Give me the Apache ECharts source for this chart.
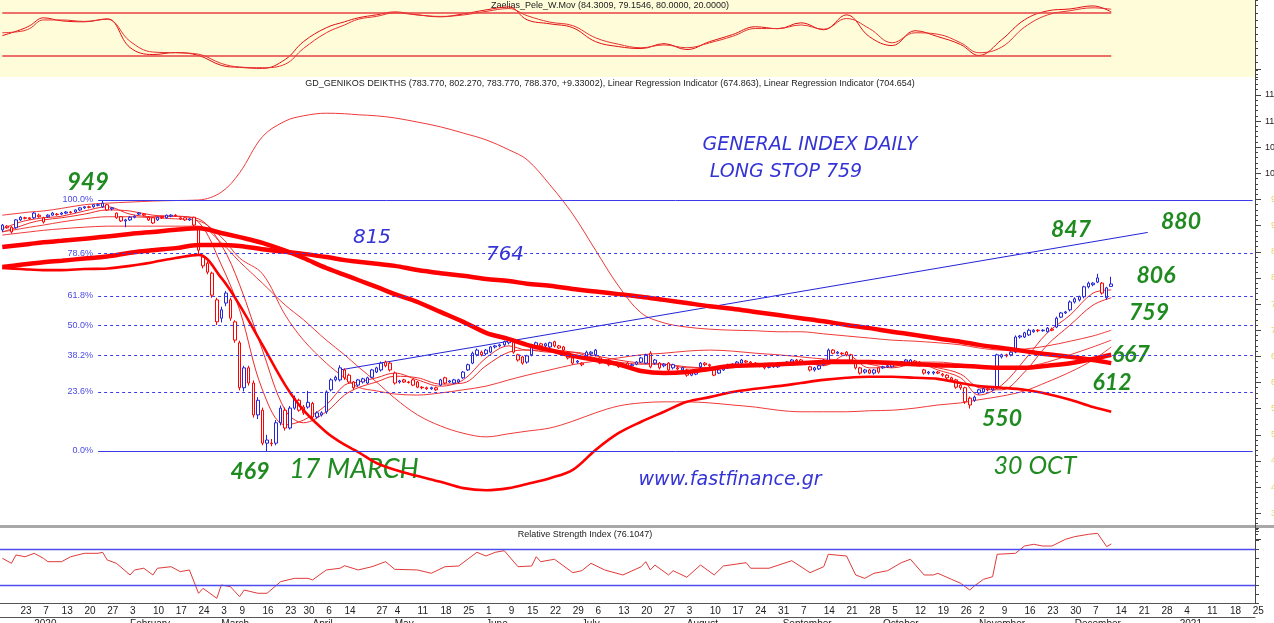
<!DOCTYPE html>
<html>
<head>
<meta charset="utf-8">
<title>GD General Index daily</title>
<script src="https://cdn.jsdelivr.net/npm/echarts@6/dist/echarts.min.js"></script>
<style>
  html, body { margin: 0; padding: 0; background: #fff; }
  #chart { width: 1274px; height: 623px; }
</style>
</head>
<body>
<div id="chart"></div>
<script>
// ---- trading calendar ----
const firstDay = '2019-12-17';
const lastDataDay = '2020-12-11';
const lastDay = '2021-01-25';
const holidays = ['2019-12-24', '2019-12-25', '2019-12-26', '2019-12-31', '2020-01-01', '2020-01-06',
  '2020-03-02', '2020-03-25', '2020-04-10', '2020-04-13', '2020-04-17', '2020-04-20', '2020-05-01',
  '2020-06-08', '2020-10-28'];
const weekTicks = ['2019-12-17', '2019-12-23', '2019-12-30', '2020-01-07', '2020-01-13', '2020-01-20', '2020-01-27',
  '2020-02-03', '2020-02-10', '2020-02-17', '2020-02-24', '2020-03-03', '2020-03-09', '2020-03-16', '2020-03-23',
  '2020-03-30', '2020-04-06', '2020-04-14', '2020-04-21', '2020-04-27', '2020-05-04', '2020-05-11', '2020-05-18',
  '2020-05-25', '2020-06-01', '2020-06-09', '2020-06-15', '2020-06-22', '2020-06-29', '2020-07-06', '2020-07-13',
  '2020-07-20', '2020-07-27', '2020-08-03', '2020-08-10', '2020-08-17', '2020-08-24', '2020-08-31', '2020-09-07',
  '2020-09-14', '2020-09-21', '2020-09-28', '2020-10-05', '2020-10-12', '2020-10-19', '2020-10-26', '2020-11-02',
  '2020-11-09', '2020-11-16', '2020-11-23', '2020-11-30', '2020-12-07', '2020-12-14', '2020-12-21', '2020-12-28',
  '2021-01-04', '2021-01-11', '2021-01-18', '2021-01-25'];
const unlabeledTicks = ['2019-12-17', '2019-12-30', '2020-04-21'];
const monthNames = ['January', 'February', 'March', 'April', 'May', 'June', 'July', 'August',
  'September', 'October', 'November', 'December'];

// ---- daily candles [open, close, low, high] ----
const dec2019 = [[892, 901, 888, 903], [899, 896, 894, 901], [897, 888, 885, 899], [896, 911, 894, 912],
  [911, 916, 909, 918], [915, 914, 912, 917], [915, 913, 911, 916]];
const jan2020 = [[915, 924, 913, 926], [920, 917, 915, 923], [915, 907, 904, 917], [917, 920, 915, 922],
  [920, 924, 919, 926], [922, 921, 919, 924], [922, 924, 920, 926], [924, 926, 922, 928], [926, 925, 923, 928],
  [926, 930, 924, 931], [930, 934, 928, 935], [934, 936, 932, 937], [936, 935, 933, 938], [936, 940, 934, 941],
  [939, 940, 937, 942], [936, 943, 934, 949], [940, 930, 928, 941], [934, 932, 929, 935], [924, 915, 913, 925],
  [917, 909, 907, 918], [909, 911, 897, 913]];
const feb2020 = [[911, 916, 909, 918], [916, 918, 914, 920], [922, 924, 920, 926], [922, 920, 918, 924],
  [916, 911, 909, 918], [915, 905, 903, 916], [911, 916, 909, 917], [916, 915, 913, 918], [915, 920, 913, 921],
  [918, 920, 916, 922], [920, 919, 917, 922], [915, 913, 911, 916], [915, 911, 909, 916], [913, 911, 909, 914],
  [916, 901, 899, 917], [895, 853, 842, 899], [840, 823, 818, 843], [828, 811, 807, 832], [809, 767, 762, 812],
  [758, 716, 710, 762]];
const mar2020 = [[723, 739, 715, 745], [752, 771, 746, 775], [758, 723, 718, 762], [716, 681, 676, 719],
  [676, 590, 585, 680], [590, 628, 583, 632], [628, 599, 594, 632], [599, 538, 533, 604], [538, 566, 530, 572],
  [547, 484, 480, 552], [490, 484, 469, 500], [484, 483, 478, 492], [484, 523, 480, 528], [523, 551, 518, 556],
  [547, 513, 508, 552], [513, 551, 510, 555], [551, 570, 548, 575], [566, 547, 544, 569], [553, 542, 538, 557],
  [553, 562, 550, 584]];
const apr2020 = [[560, 534, 530, 563], [542, 534, 531, 545], [542, 538, 535, 545], [544, 582, 540, 585],
  [586, 605, 583, 608], [605, 610, 602, 613], [605, 628, 602, 633], [624, 609, 605, 627], [614, 601, 598, 617],
  [601, 590, 586, 603], [595, 605, 592, 607], [601, 607, 598, 609], [599, 609, 597, 611], [610, 624, 608, 626],
  [620, 628, 618, 630], [624, 637, 621, 640], [639, 632, 629, 642], [637, 624, 621, 640]];
const may2020 = [[618, 599, 596, 621], [601, 603, 598, 605], [605, 601, 599, 607], [601, 600, 598, 603],
  [605, 595, 593, 607], [601, 591, 589, 603], [591, 590, 587, 593], [590, 588, 586, 592], [588, 590, 586, 592],
  [590, 586, 584, 592], [595, 605, 593, 607], [609, 599, 597, 611], [603, 601, 599, 605], [599, 605, 597, 607],
  [601, 605, 599, 607], [609, 620, 607, 622], [624, 634, 622, 636], [637, 656, 635, 659], [653, 662, 650, 665],
  [658, 653, 650, 661]];
const jun2020 = [[655, 662, 652, 664], [658, 668, 656, 670], [668, 670, 665, 672], [670, 672, 667, 674],
  [672, 678, 669, 680], [676, 681, 673, 684], [678, 658, 655, 680], [653, 643, 640, 655], [649, 637, 634, 651],
  [639, 651, 636, 653], [653, 672, 650, 674], [668, 676, 665, 678], [674, 670, 667, 676], [670, 674, 668, 676],
  [668, 676, 666, 678], [678, 670, 667, 680], [670, 666, 664, 672], [668, 662, 660, 670], [658, 647, 644, 660],
  [647, 637, 634, 649], [639, 641, 636, 643]];
const jul2020 = [[637, 634, 631, 639], [649, 658, 646, 661], [655, 658, 652, 660], [653, 662, 650, 664],
  [647, 637, 635, 649], [641, 639, 637, 643], [643, 634, 631, 645], [635, 637, 633, 639], [637, 630, 628, 639],
  [632, 635, 629, 637], [637, 630, 627, 639], [632, 634, 630, 636], [635, 639, 633, 641], [639, 647, 637, 649],
  [637, 653, 635, 655], [656, 630, 627, 660], [643, 637, 634, 645], [637, 628, 625, 639], [632, 635, 629, 637],
  [637, 624, 621, 639], [634, 628, 625, 636], [628, 626, 623, 630], [624, 628, 622, 630]];
const aug2020 = [[624, 614, 611, 626], [620, 614, 612, 622], [616, 620, 614, 622], [630, 637, 627, 639],
  [637, 634, 631, 639], [634, 632, 629, 636], [624, 614, 612, 626], [618, 624, 616, 626], [624, 628, 622, 630],
  [628, 634, 626, 636], [632, 635, 630, 637], [635, 639, 633, 641], [637, 643, 635, 645], [641, 639, 637, 643],
  [639, 637, 635, 641], [637, 634, 631, 639], [634, 632, 629, 636], [630, 628, 625, 632], [630, 629, 627, 632],
  [630, 632, 628, 634], [630, 632, 628, 634]];
const sep2020 = [[634, 635, 632, 637], [637, 639, 635, 641], [639, 643, 637, 645], [643, 641, 639, 645],
  [643, 639, 637, 645], [639, 635, 633, 641], [630, 624, 621, 632], [628, 624, 621, 630], [626, 632, 624, 634],
  [634, 643, 632, 645], [639, 662, 637, 665], [662, 656, 654, 664], [658, 656, 654, 660], [656, 655, 652, 658],
  [658, 653, 650, 660], [653, 643, 640, 655], [637, 628, 625, 639], [628, 618, 615, 630], [624, 620, 617, 626],
  [624, 618, 616, 626], [618, 624, 615, 626], [628, 620, 617, 630]];
const oct2020 = [[628, 630, 626, 632], [630, 632, 628, 634], [630, 637, 628, 639], [635, 637, 633, 639],
  [639, 637, 635, 641], [643, 639, 637, 645], [637, 643, 635, 645], [639, 641, 637, 643], [639, 634, 631, 641],
  [624, 618, 615, 626], [620, 618, 615, 622], [618, 620, 615, 622], [620, 618, 616, 622], [616, 614, 611, 618],
  [614, 609, 606, 616], [609, 605, 602, 611], [605, 591, 588, 607], [595, 590, 586, 597], [590, 563, 559, 592],
  [570, 557, 550, 573], [566, 572, 563, 575]];
const nov2020 = [[580, 586, 577, 588], [582, 588, 580, 590], [588, 586, 583, 590], [586, 590, 584, 592],
  [590, 653, 588, 655], [649, 653, 646, 655], [653, 651, 648, 655], [653, 658, 650, 660], [658, 687, 656, 690],
  [687, 689, 684, 691], [687, 695, 685, 697], [691, 700, 689, 703], [697, 700, 695, 702], [700, 699, 696, 702],
  [699, 700, 697, 702], [697, 704, 695, 706], [702, 700, 698, 705], [706, 723, 704, 726], [725, 733, 723, 735],
  [733, 735, 731, 737], [739, 754, 736, 757]];
const dec2020 = [[754, 760, 751, 763], [758, 764, 755, 766], [764, 783, 761, 785], [783, 790, 780, 793],
  [787, 790, 784, 792], [792, 800, 790, 808], [790, 771, 768, 792], [762, 781, 758, 783],
  [783.77, 788.37, 783.77, 802.27]];

// ---- indicator lines, one value per week (weekly dates below) ----
const lrFast = [859, 863, 865, 868, 871, 875, 879, 884, 888, 892, 895, 886, 878, 867, 852, 838, 819, 806, 796, 783,
  769, 754, 735, 716, 695, 683, 672, 662, 651, 643, 635, 622, 618, 620, 626, 632, 633, 635, 637, 639, 639, 639, 637,
  635, 633, 632, 630, 628, 628, 632, 637, 645, 653];
const lrSlow = [821, 825, 827, 830, 833, 837, 841, 848, 853, 857, 863, 863, 861, 855, 850, 846, 840, 834, 831, 827,
  823, 815, 809, 804, 798, 794, 789, 785, 779, 774, 769, 764, 758, 752, 746, 741, 735, 729, 723, 717, 710, 704, 697,
  691, 684, 678, 672, 666, 660, 654, 649, 643, 637];
const lowerCurve = [819, 817, 816, 815, 815, 817, 818, 823, 830, 838, 844, 800, 748, 672, 595, 547, 505, 481, 467,
  446, 433, 421, 410, 398, 394, 398, 406, 417, 433, 471, 503, 525, 544, 563, 572, 582, 588, 593, 599, 605, 609, 611,
  611, 609, 607, 599, 593, 590, 586, 578, 567, 553, 544];
const upperBand = [920, 924, 926, 928, 933, 940, 943, 945, 947, 948, 949, 964, 1001, 1070, 1100, 1110, 1115, 1114,
  1112, 1110, 1106, 1098, 1089, 1077, 1064, 1045, 1026, 978, 922, 853, 785, 733, 714, 706, 702, 700, 699, 697, 697,
  693, 689, 685, 681, 679, 676, 672, 666, 662, 664, 670, 679, 689, 700];
const lowerBand = [882, 886, 888, 891, 894, 897, 899, 899, 899, 899, 899, 867, 831, 790, 748, 720, 681, 653, 630, 601,
  570, 538, 517, 503, 496, 502, 507, 513, 526, 542, 555, 561, 563, 563, 561, 557, 553, 547, 544, 544, 544, 546, 547,
  551, 557, 561, 567, 574, 584, 601, 620, 643, 668];
const maMid = [888, 894, 897, 901, 907, 913, 917, 917, 915, 913, 909, 878, 838, 808, 729, 681, 637, 609, 591, 584,
  578, 576, 580, 586, 593, 605, 614, 624, 634, 641, 647, 653, 656, 660, 662, 660, 656, 653, 649, 645, 643, 641, 641,
  639, 639, 635, 632, 628, 630, 639, 653, 668, 681];
const maFast1 = [894, 907, 911, 915, 918, 928, 936, 922, 917, 918, 907, 825, 739, 586, 519, 528, 557, 595, 601, 609,
  618, 605, 593, 605, 647, 670, 662, 662, 658, 647, 639, 635, 635, 628, 628, 628, 637, 632, 639, 632, 653, 628, 630,
  639, 624, 609, 576, 595, 643, 695, 729, 771, 777];
const maFast2 = [888, 899, 905, 911, 915, 922, 930, 928, 920, 918, 913, 863, 787, 662, 547, 523, 544, 576, 590, 601,
  612, 609, 597, 599, 632, 658, 662, 658, 658, 651, 643, 637, 635, 630, 628, 628, 634, 632, 635, 634, 643, 635, 628,
  635, 628, 616, 590, 586, 620, 672, 710, 748, 762];

// top oscillator (Zaelias_Pele_W.Mov), weekly
const oscMain = [48, 56.3, 61.9, 73, 68.8, 67.4, 71.6, 31.3, 21.5, 24.3, 20.2, 6.3, 3.5, 2.1, 14.6, 39.6, 59.1, 67.4,
  73, 77.2, 81.3, 77.2, 74.4, 78.5, 84.1, 88.3, 70.2, 64.6, 59.1, 39.6, 32.7, 29.9, 36.8, 28.5, 39.6, 49.4, 60.5,
  57.7, 66, 56.3, 77.2, 46.6, 34.1, 54.9, 46.6, 35.5, 20.2, 42.4, 70.2, 82.7, 85.5, 89.7, 81.3];
const oscSignal = [52, 54, 58, 70, 70, 68, 71, 40, 25, 24, 22, 9, 4, 3, 8, 30, 52, 63, 71, 75, 80, 77, 75, 77, 82,
  86, 76, 67, 62, 45, 36, 31, 35, 31, 38, 47, 58, 58, 63, 57, 72, 58, 38, 52, 50, 38, 24, 32, 60, 77, 83, 87, 85];

// RSI, [trading day number, value]
const rsi = [[0, 59.7], [2, 54.1], [3, 63.3], [5, 61.4], [7, 65.2], [9, 59.7], [10, 55.9], [13, 55.9], [15, 61.4],
  [18, 65.2], [21, 65.2], [22, 66.3], [23, 57.8], [25, 54.1], [28, 41.1], [29, 46.7], [31, 48.6], [33, 41.1],
  [34, 48.6], [37, 50.3], [39, 44.8], [41, 46.7], [43, 20.8], [44, 26.3], [47, 15.2], [48, 30], [50, 28.1], [52, 17],
  [53, 24.4], [56, 20.8], [58, 20.8], [61, 33.7], [64, 37.4], [67, 37.4], [68, 35.6], [71, 46.7], [74, 48.6],
  [75, 51.4], [78, 46.7], [81, 50.3], [84, 55.9], [86, 47.4], [91, 46.7], [94, 43], [97, 50.3], [100, 51.1],
  [104, 66.3], [106, 62.2], [108, 66.3], [110, 68.1], [113, 50.3], [116, 51.1], [117, 61.4], [118, 55.9],
  [121, 58.6], [125, 43.7], [127, 45.9], [129, 54.1], [132, 46.7], [136, 41.1], [140, 50.3], [141, 55.9],
  [142, 46.7], [143, 52.2], [146, 41.1], [147, 45.9], [150, 38.6], [153, 52.2], [156, 41.1], [158, 51.1],
  [163, 54.8], [164, 48.6], [168, 48.6], [173, 57], [177, 43.7], [180, 50.3], [181, 64.1], [185, 62.2], [187, 41.1],
  [189, 37.4], [191, 43], [194, 45.9], [197, 54.8], [199, 58.6], [202, 41.1], [204, 41.1], [205, 43], [208, 36.3],
  [210, 31.9], [212, 24.4], [213, 28.9], [215, 36.3], [217, 39.2], [218, 64.1], [222, 65.2], [224, 73.3],
  [226, 75.2], [228, 73.3], [230, 73.3], [233, 80.8], [235, 83.7], [238, 86.3], [240, 87.4], [242, 72.6],
  [243, 75.6]];

// blue trend line and fibonacci retracement (469 low -> 949 high)
const trendLine = [['2020-04-09', 624], ['2020-12-23', 887]];
const fibValues = [949, 846.3, 765.6, 709, 652.4, 582.3, 469];
const fibLabels = ['100.0%', '78.6%', '61.8%', '50.0%', '38.2%', '23.6%', '0.0%'];
const fibStart = '2020-01-23';

// ---- build categories ----
const days = [];
for (let d = new Date(firstDay + 'T00:00:00Z'); d <= new Date(lastDay + 'T00:00:00Z'); d.setUTCDate(d.getUTCDate() + 1)) {
  const s = d.toISOString().slice(0, 10);
  const wd = d.getUTCDay();
  if (wd === 0 || wd === 6) continue;
  if (s <= lastDataDay && holidays.includes(s)) continue;
  days.push(s);
}
const idxOf = {};
days.forEach((d, i) => { idxOf[d] = i; });
const monthStart = new Set();
days.forEach((d, i) => { if (i > 0 && d.slice(0, 7) !== days[i - 1].slice(0, 7)) monthStart.add(i); });
const weekSet = new Set(weekTicks.map(d => idxOf[d]));
const labelSet = new Set(weekTicks.filter(d => !unlabeledTicks.includes(d)).map(d => idxOf[d]));
const lineDates = weekTicks.filter(d => d <= '2020-12-07').concat([lastDataDay]);

const BLUE = '#2424d8';
const RED = '#ff0000';
const candles = [].concat(dec2019, jan2020, feb2020, mar2020, apr2020, may2020, jun2020, jul2020,
  aug2020, sep2020, oct2020, nov2020, dec2020);
const candleData = candles.map((c, i) => {
  const prev = i > 0 ? candles[i - 1][1] : c[0];
  const col = c[1] >= prev ? BLUE : RED;
  return { value: c, itemStyle: { color: '#ffffff', color0: col, borderColor: col, borderColor0: col } };
});

const weekly = arr => lineDates.map((d, i) => [d, arr[i]]);
function overlay(values, width, color, z) {
  return {
    type: 'line', xAxisIndex: 1, yAxisIndex: 1, data: weekly(values), smooth: 0.35,
    symbol: 'none', silent: true, z, lineStyle: { width, color }
  };
}

const chart = echarts.init(document.getElementById('chart'));
const hiddenX = gi => ({ type: 'category', gridIndex: gi, data: days, show: false });

chart.setOption({
  animation: false,
  backgroundColor: '#ffffff',
  textStyle: { fontFamily: 'Liberation Sans, Arial, sans-serif' },
  grid: [
    { left: 0, right: 19, top: 0, height: 77, show: true, backgroundColor: '#fffcd9', borderWidth: 0, outerBoundsMode: 'none' },
    { left: 0, right: 19, top: 68.76, height: 470.61, outerBoundsMode: 'none' },
    { left: 0, right: 19, top: 528, height: 75, outerBoundsMode: 'none' }
  ],
  xAxis: [
    hiddenX(0),
    hiddenX(1),
    {
      type: 'category', gridIndex: 2, data: days,
      axisLine: { lineStyle: { color: '#555', width: 1 } },
      axisTick: { interval: i => weekSet.has(i) || monthStart.has(i), length: 14, lineStyle: { color: '#555' } },
      axisLabel: {
        interval: i => labelSet.has(i), formatter: v => String(+v.slice(8)),
        align: 'left', margin: 3, fontSize: 10, color: '#222'
      },
      splitLine: { show: false }
    },
    {
      type: 'category', gridIndex: 2, data: days, position: 'bottom', offset: 14,
      axisLine: { lineStyle: { color: '#555', width: 1 } },
      axisTick: { interval: i => monthStart.has(i), length: 10, lineStyle: { color: '#555' } },
      axisLabel: {
        interval: i => monthStart.has(i), align: 'left', margin: 2, fontSize: 10, color: '#222',
        formatter: v => (+v.slice(5, 7) === 1 ? v.slice(0, 4) : monthNames[+v.slice(5, 7) - 1])
      }
    }
  ],
  yAxis: [
    {
      type: 'value', gridIndex: 0, position: 'right', min: -10, max: 98, interval: 10,
      axisLine: { show: true, lineStyle: { color: '#444' } },
      axisTick: { show: true, length: 3, lineStyle: { color: '#444' } },
      axisLabel: { show: false }, splitLine: { show: false }
    },
    {
      type: 'value', gridIndex: 1, position: 'right', min: 300, max: 1200, interval: 50,
      axisLine: { show: true, lineStyle: { color: '#444' } },
      axisTick: { show: true, length: 6, lineStyle: { color: '#444' } },
      minorTick: { show: true, splitNumber: 5, length: 3, lineStyle: { color: '#444' } },
      axisLabel: {
        margin: 10, fontSize: 9, color: '#222',
        formatter: v => (v < 350 || v > 1150 ? '' : v >= 1000 ? String(v) : '{y|' + v + '}'),
        rich: { y: { color: '#e6d66a', fontSize: 9, padding: [0, 0, 0, 6] } }
      },
      splitLine: { show: false }
    },
    {
      type: 'value', gridIndex: 2, position: 'right', min: 10, max: 93.3, interval: 10,
      axisLine: { show: true, lineStyle: { color: '#444' } },
      axisTick: { show: true, length: 4, lineStyle: { color: '#444' } },
      axisLabel: { show: false }, splitLine: { show: false }
    }
  ],
  series: [
    {
      type: 'line', xAxisIndex: 0, yAxisIndex: 0, data: weekly(oscMain), smooth: 0.4, symbol: 'none',
      lineStyle: { width: 1, color: '#e01010' }, silent: true,
      markLine: {
        silent: true, symbol: 'none', label: { show: false },
        lineStyle: { color: '#e84040', width: 1.5, type: 'solid' },
        data: [
          [{ coord: [days[0], 80] }, { coord: [lastDataDay, 80] }],
          [{ coord: [days[0], 20] }, { coord: [lastDataDay, 20] }]
        ]
      }
    },
    {
      type: 'line', xAxisIndex: 0, yAxisIndex: 0, data: weekly(oscSignal), smooth: 0.4, symbol: 'none',
      lineStyle: { width: 1, color: '#e83030' }, silent: true
    },
    overlay(upperBand, 1, '#f03a3a', 2),
    overlay(lowerBand, 1, '#f03a3a', 2),
    overlay(maMid, 1, '#f03a3a', 2),
    overlay(maFast1, 1, '#f02a2a', 2),
    overlay(maFast2, 1, '#f02a2a', 2),
    {
      type: 'line', xAxisIndex: 1, yAxisIndex: 1, data: trendLine, symbol: 'none', silent: true, z: 2,
      lineStyle: { width: 1, color: BLUE },
      markLine: {
        silent: true, symbol: 'none',
        label: { show: true, position: 'start', formatter: '{b}', color: '#4a4ae6', fontSize: 9, distance: 5 },
        lineStyle: { color: '#3a3ae8', width: 1 },
        data: fibValues.map((v, i) => [
          {
            coord: [fibStart, v], name: fibLabels[i],
            lineStyle: { type: (i === 0 || i === fibValues.length - 1) ? 'solid' : [3, 3] }
          },
          { coord: [days[days.length - 1], v] }
        ])
      }
    },
    {
      type: 'candlestick', xAxisIndex: 1, yAxisIndex: 1, data: candleData, barWidth: 3, z: 3, silent: true,
      itemStyle: { borderWidth: 1 }
    },
    overlay(lowerCurve, 2.6, RED, 4),
    overlay(lrSlow, 4.5, RED, 4),
    overlay(lrFast, 4.5, RED, 4),
    {
      type: 'line', xAxisIndex: 2, yAxisIndex: 2, data: rsi, symbol: 'none', silent: true,
      lineStyle: { width: 1, color: '#e03a3a' },
      markLine: {
        silent: true, symbol: 'none', label: { show: false },
        lineStyle: { color: '#4c4cf0', width: 1.3, type: 'solid' },
        data: [{ yAxis: 70 }, { yAxis: 30 }]
      }
    }
  ],
  graphic: [
    { type: 'rect', shape: { x: 0, y: 525, width: 1274, height: 3 }, style: { fill: '#a8a8a8' }, silent: true },
    { type: 'text', x: 610, y: 6, style: { text: 'Zaelias_Pele_W.Mov (84.3009, 79.1546, 80.0000, 20.0000)', font: '9px Liberation Sans', fill: '#222', align: 'center', verticalAlign: 'middle' } },
    { type: 'text', x: 610, y: 84, style: { text: 'GD_GENIKOS DEIKTHS (783.770, 802.270, 783.770, 788.370, +9.33002), Linear Regression Indicator (674.863), Linear Regression Indicator (704.654)', font: '9px Liberation Sans', fill: '#222', align: 'center', verticalAlign: 'middle' } },
    { type: 'text', x: 585, y: 535, style: { text: 'Relative Strength Index (76.1047)', font: '9px Liberation Sans', fill: '#222', align: 'center', verticalAlign: 'middle' } },
    { type: 'text', x: 810, y: 145, style: { text: 'GENERAL INDEX DAILY', font: 'italic 19px DejaVu Sans', fill: '#3434d6', align: 'center', verticalAlign: 'middle' } },
    { type: 'text', x: 786, y: 172, style: { text: 'LONG STOP 759', font: 'italic 19px DejaVu Sans', fill: '#3434d6', align: 'center', verticalAlign: 'middle' } },
    { type: 'text', x: 372, y: 238, style: { text: '815', font: 'italic 20px DejaVu Sans', fill: '#3434d6', align: 'center', verticalAlign: 'middle' } },
    { type: 'text', x: 505, y: 255, style: { text: '764', font: 'italic 20px DejaVu Sans', fill: '#3434d6', align: 'center', verticalAlign: 'middle' } },
    { type: 'text', x: 730, y: 480, style: { text: 'www.fastfinance.gr', font: 'italic 19px DejaVu Sans', fill: '#3434d6', align: 'center', verticalAlign: 'middle' } },
    { type: 'text', x: 88, y: 182, style: { text: '949', font: 'italic bold 24px Lato', fill: '#1f8a1f', align: 'center', verticalAlign: 'middle' } },
    { type: 'text', x: 250, y: 472, style: { text: '469', font: 'italic bold 23px Lato', fill: '#1f8a1f', align: 'center', verticalAlign: 'middle' } },
    { type: 'text', x: 354, y: 469, style: { text: '17 MARCH', font: 'italic 27px Lato', fill: '#1f8a1f', align: 'center', verticalAlign: 'middle' } },
    { type: 'text', x: 1071, y: 230, style: { text: '847', font: 'italic bold 23px Lato', fill: '#1f8a1f', align: 'center', verticalAlign: 'middle' } },
    { type: 'text', x: 1181, y: 222, style: { text: '880', font: 'italic bold 23px Lato', fill: '#1f8a1f', align: 'center', verticalAlign: 'middle' } },
    { type: 'text', x: 1156, y: 276, style: { text: '806', font: 'italic bold 23px Lato', fill: '#1f8a1f', align: 'center', verticalAlign: 'middle' } },
    { type: 'text', x: 1149, y: 313, style: { text: '759', font: 'italic bold 23px Lato', fill: '#1f8a1f', align: 'center', verticalAlign: 'middle' } },
    { type: 'text', x: 1131, y: 355, style: { text: '667', font: 'italic bold 23px Lato', fill: '#1f8a1f', align: 'center', verticalAlign: 'middle' } },
    { type: 'text', x: 1112, y: 383, style: { text: '612', font: 'italic bold 23px Lato', fill: '#1f8a1f', align: 'center', verticalAlign: 'middle' } },
    { type: 'text', x: 1002, y: 419, style: { text: '550', font: 'italic bold 23px Lato', fill: '#1f8a1f', align: 'center', verticalAlign: 'middle' } },
    { type: 'text', x: 1035, y: 466, style: { text: '30 OCT', font: 'italic 25px Lato', fill: '#1f8a1f', align: 'center', verticalAlign: 'middle' } }
  ]
});
</script>
</body>
</html>
